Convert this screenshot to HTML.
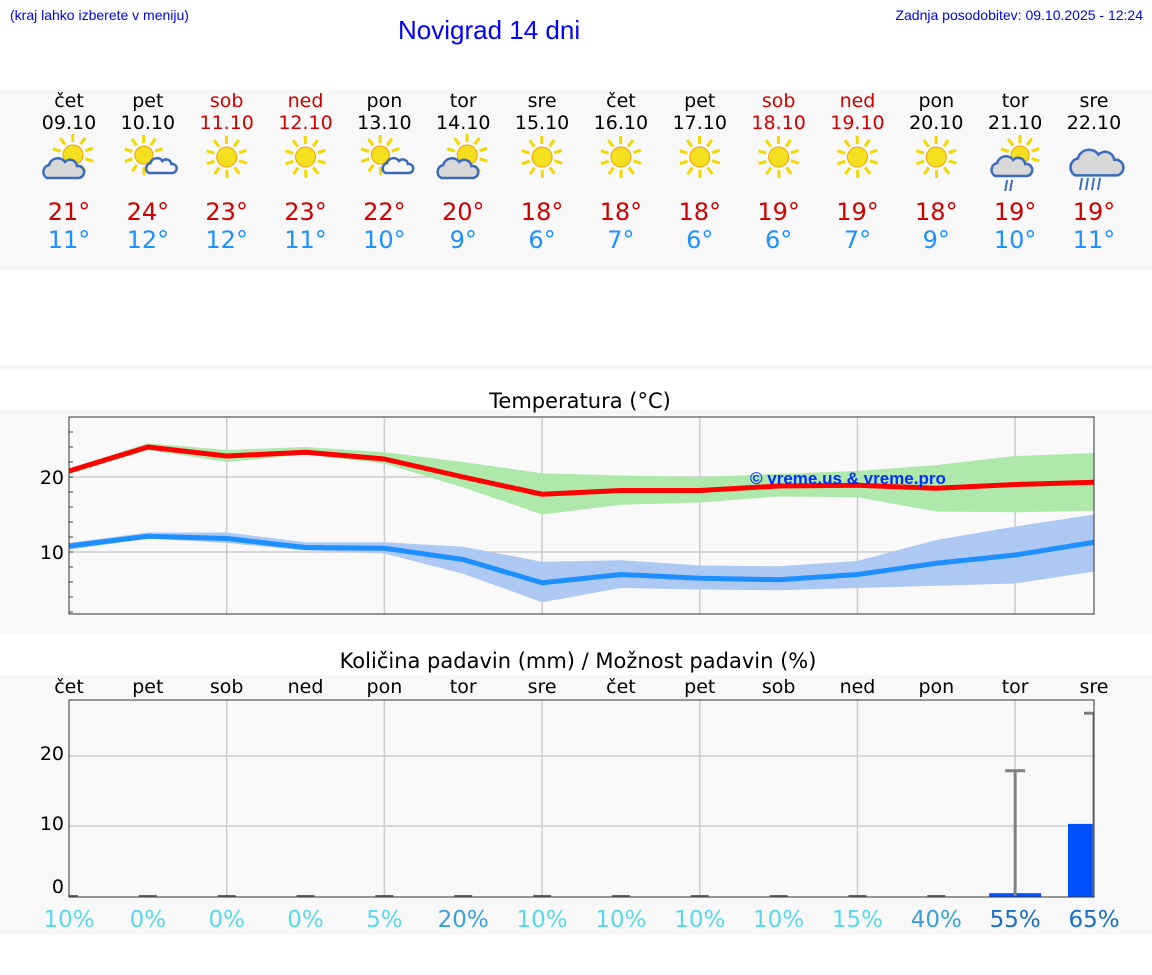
<!DOCTYPE html>
<html><head><meta charset="utf-8">
<style>
body{margin:0;width:1152px;height:975px;background:#fff;font-family:"DejaVu Sans","Liberation Sans",sans-serif;overflow:hidden;position:relative}
.abs{position:absolute}
</style></head>
<body>
<div class="abs" style="left:10px;top:7px;font-size:14px;color:#00f;font-family:'Liberation Sans',sans-serif">(kraj lahko izberete v meniju)</div>
<div class="abs" style="left:398px;top:15px;font-size:26px;color:#00f;font-family:'Liberation Sans',sans-serif">Novigrad 14 dni</div>
<div class="abs" style="right:9px;top:7px;font-size:14px;color:#00f;font-family:'Liberation Sans',sans-serif">Zadnja posodobitev: 09.10.2025 - 12:24</div>
<svg id="s" class="abs" style="left:0;top:0" width="1152" height="975"></svg>
<script>
const days=["čet","pet","sob","ned","pon","tor","sre","čet","pet","sob","ned","pon","tor","sre"];
const dates=["09.10","10.10","11.10","12.10","13.10","14.10","15.10","16.10","17.10","18.10","19.10","20.10","21.10","22.10"];
const weekend=[0,0,1,1,0,0,0,0,0,1,1,0,0,0];
const icons=["pc","ps","s","s","ps","pc","s","s","s","s","s","s","r1","r2"];
const maxLabels=[21,24,23,23,22,20,18,18,18,19,19,18,19,19];
const minLabels=[11,12,12,11,10,9,6,7,6,6,7,9,10,11];
const tMax=[20.8,24,22.8,23.3,22.4,20,17.7,18.2,18.2,18.8,18.9,18.5,19,19.3];
const tMaxHi=[21.1,24.5,23.6,24,23.3,22,20.5,20.2,20,20.4,20.8,21.6,22.8,23.2];
const tMaxLo=[20.4,23.6,22,23,21.8,18.6,15,16.3,16.6,17.4,17.3,15.4,15.3,15.5];
const tMin=[10.8,12.1,11.8,10.6,10.5,9,5.9,7,6.5,6.3,7,8.5,9.6,11.3];
const tMinHi=[11.2,12.6,12.6,11.3,11.3,10.7,8.7,8.9,8.2,8.1,8.8,11.6,13.4,15];
const tMinLo=[10.3,11.8,11.2,10.2,9.8,7.1,3.3,5.2,5,4.9,5.2,5.5,5.8,7.4];
const precip=[0,0,0,0,0,0,0,0,0,0,0,0,0.4,10.3];
const precipHi=[0,0,0,0,0,0,0,0,0,0,0,0,17.9,26.1];
const prob=[10,0,0,0,5,20,10,10,10,10,15,40,55,65];
const tTicks=[10,20];
const pTicks=[0,10,20];

const NS="http://www.w3.org/2000/svg",svg=document.getElementById('s');
function el(t,a,p){const e=document.createElementNS(NS,t);for(const k in a)e.setAttribute(k,a[k]);(p||svg).appendChild(e);return e;}
const X0=69,X1=1094,dx=(X1-X0)/13;
const xd=i=>X0+i*dx;
const yT=v=>477-(v-20)*7.5;
const yP=v=>896-v*7;

let r=el('rect',{x:0,y:90,width:1152,height:180,fill:'#f8f8f8'});
el('rect',{x:0,y:365,width:1152,height:5,fill:'#f8f8f8'});
r=el('rect',{x:0,y:410,width:1152,height:224,fill:'#f8f8f8'});
r=el('rect',{x:0,y:675,width:1152,height:260,fill:'#f8f8f8'});

function txt(x,y,s,size,fill,name,anchor){const t=el('text',{x:x,y:y,'font-size':size,fill:fill,'text-anchor':anchor||'middle'});t.textContent=s;return t;}

function sun(g,cx,cy,R){
  for(let k=0;k<10;k++){const a=k*Math.PI/5+0.3;el('line',{x1:cx+Math.cos(a)*(R+3),y1:cy+Math.sin(a)*(R+3),x2:cx+Math.cos(a)*(R+11),y2:cy+Math.sin(a)*(R+11),stroke:'#f0d800','stroke-width':3},g);}
  el('circle',{cx:cx,cy:cy,r:R,fill:'#f5e020',stroke:'#f0a000','stroke-width':1},g);
}
function cloud(g,cx,cy,sc,fill){
  const p=`M${cx-16*sc},${cy+8*sc} a${7*sc},${7*sc} 0 0 1 ${2*sc},${-13*sc} a${9*sc},${9*sc} 0 0 1 ${16*sc},${-3*sc} a${7*sc},${7*sc} 0 0 1 ${12*sc},${4*sc} a${6*sc},${6*sc} 0 0 1 ${2*sc},${12*sc} z`;
  el('path',{d:p,fill:fill,stroke:'#3a6ab8','stroke-width':2.5},g);
}
days.forEach((d,i)=>{
  const x=xd(i),c=weekend[i]?'#d00000':'#000';
  txt(x,107,d,19,c,'day-name');
  txt(x,129,dates[i],19,c,'day-date');
  const g=el('g',{});
  const ic=icons[i];
  if(ic==='s'){sun(g,x,157,10);}
  else if(ic==='ps'){sun(g,x-4,155,9);cloud(g,x+13,167,0.75,'#f8f8f8');}
  else if(ic==='pc'){sun(g,x+4,155,10);cloud(g,x-6,170,1,'#d8d8d8');}
  else if(ic==='r1'){sun(g,x+5,155,9);cloud(g,x-4,168,1,'#d8d8d8');el('path',{d:`M${x-8},180 l-2,11 M${x-3},180 l-2,11`,stroke:'#3a6ab8','stroke-width':2},g);}
  else {cloud(g,x+2,165,1.3,'#d8d8d8');el('path',{d:`M${x-12},178 l-2,12 M${x-6},178 l-2,12 M${x},178 l-2,12 M${x+6},178 l-2,12`,stroke:'#3a6ab8','stroke-width':2},g);}
  txt(x,220,maxLabels[i]+'°',24,'#d00000','max-temp-label');
  txt(x,248,minLabels[i]+'°',24,'#1e90ff','min-temp-label');
});

txt(580,408,'Temperatura (°C)',21,'#000','temperature-title');
el('rect',{x:X0,y:417,width:X1-X0,height:197,fill:'#f9f9f9'});
for(let i=2;i<13;i+=2)el('line',{x1:xd(i),y1:417,x2:xd(i),y2:614,stroke:'#ccc','stroke-width':1.5});
tTicks.forEach(v=>{el('line',{x1:X0,y1:yT(v),x2:X1,y2:yT(v),stroke:'#ccc','stroke-width':1.5});txt(X0-5,yT(v)+7,String(v),19,'#000','y-tick-label','end');});
for(let v=2;v<=28;v+=2)el('line',{x1:X0,y1:yT(v),x2:X0+4,y2:yT(v),stroke:'#444','stroke-width':1});
function band(hi,lo,fill,name){let d='M'+hi.map((v,i)=>xd(i)+','+yT(v)).join(' L')+' L'+lo.map((v,i)=>xd(i)+','+yT(v)).reverse().join(' L')+'Z';const p=el('path',{d:d,fill:fill});}
function line(vals,col,name){const p=el('polyline',{points:vals.map((v,i)=>xd(i)+','+yT(v)).join(' '),fill:'none',stroke:col,'stroke-width':5,'stroke-linejoin':'round'});}
band(tMaxHi,tMaxLo,'#aee8aa','max-temp-range');
band(tMinHi,tMinLo,'#adc8f2','min-temp-range');
line(tMax,'#ff0000','max-temp-line');
line(tMin,'#1e8fff','min-temp-line');
let w=txt(750,484,'© vreme.us & vreme.pro',17,'#0030ff','watermark','start');
w.setAttribute('font-weight','bold');w.setAttribute('font-family','Liberation Sans, sans-serif');
el('rect',{x:X0,y:417,width:X1-X0,height:197,fill:'none',stroke:'#333','stroke-width':1});

txt(578,668,'Količina padavin (mm) / Možnost padavin (%)',21,'#000','precipitation-title');
days.forEach((d,i)=>txt(xd(i),693,d,19,'#000','precip-day-name'));
el('rect',{x:X0,y:700,width:X1-X0,height:197,fill:'#f9f9f9'});
for(let i=2;i<13;i+=2)el('line',{x1:xd(i),y1:700,x2:xd(i),y2:897,stroke:'#ccc','stroke-width':1.5});
pTicks.forEach(v=>{if(v>0)el('line',{x1:X0,y1:yP(v),x2:X1,y2:yP(v),stroke:'#ccc','stroke-width':1.5});txt(X0-5,yP(v)-3+(v===0?0:7),String(v),19,'#000','y-tick-label','end');});
const cp=el('clipPath',{id:'pc'});el('rect',{x:X0,y:700,width:X1-X0,height:197},cp);
const pg=el('g',{'clip-path':'url(#pc)'});
precip.forEach((v,i)=>{
  const x=xd(i);
  if(v>0){const b=el('rect',{x:x-26,y:yP(v),width:52,height:896-yP(v)+1,fill:'#0050ff'},pg);}
  else{const b=el('line',{x1:x-9,y1:896,x2:x+9,y2:896,stroke:'#666','stroke-width':2},pg);}
  if(precipHi[i]>0){const e=el('path',{d:`M${x},896 V${yP(precipHi[i])} M${x-10},${yP(precipHi[i])} H${x+10}`,stroke:'#808080','stroke-width':3,fill:'none'},pg);}
});
el('rect',{x:X0,y:700,width:X1-X0,height:197,fill:'none',stroke:'#333','stroke-width':1});
prob.forEach((p,i)=>{const c=p>=50?'#1a6fc0':p>=20?'#3aa0dd':'#5ad8ea';txt(xd(i),927,p+'%',23,c,'precip-probability');});
</script>
</body></html>
